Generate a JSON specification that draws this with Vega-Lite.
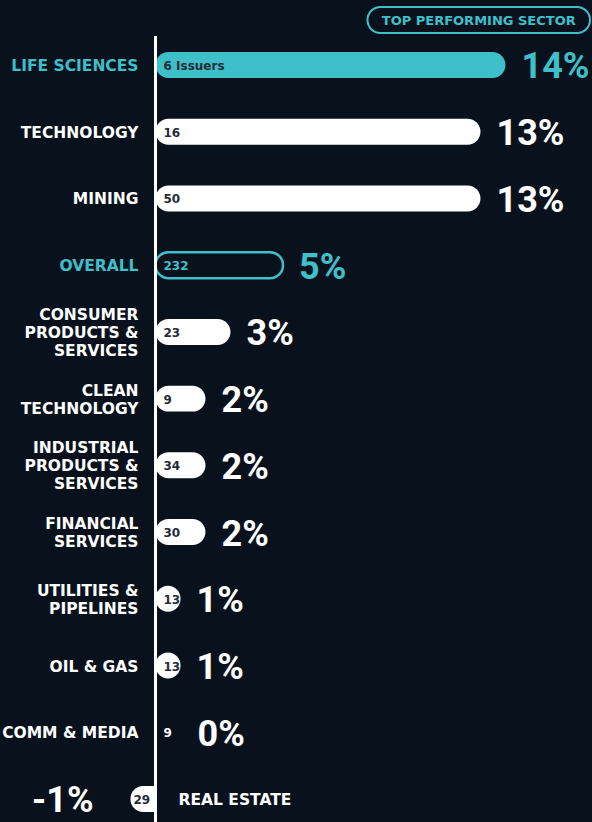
{
  "$schema": "https://vega.github.io/schema/vega-lite/v6.json",
  "background": "#09121c",
  "padding": 0,
  "spacing": 0,
  "bounds": "flush",
  "config": {"view": {"stroke": null}, "font": "DejaVu Sans", "text": {"font": "DejaVu Sans"}},
  "datasets": {
    "rows": [
      {"name": "LIFE SCIENCES", "label": ["LIFE SCIENCES"], "count": "6 Issuers", "v": 14, "pct": "14%", "kind": "top"},
      {"name": "TECHNOLOGY", "label": ["TECHNOLOGY"], "count": "16", "v": 13, "pct": "13%", "kind": "sector"},
      {"name": "MINING", "label": ["MINING"], "count": "50", "v": 13, "pct": "13%", "kind": "sector"},
      {"name": "OVERALL", "label": ["OVERALL"], "count": "232", "v": 5.1, "pct": "5%", "kind": "overall"},
      {"name": "CONSUMER PRODUCTS & SERVICES", "label": ["CONSUMER", "PRODUCTS &", "SERVICES"], "count": "23", "v": 3, "pct": "3%", "kind": "sector"},
      {"name": "CLEAN TECHNOLOGY", "label": ["CLEAN", "TECHNOLOGY"], "count": "9", "v": 2, "pct": "2%", "kind": "sector"},
      {"name": "INDUSTRIAL PRODUCTS & SERVICES", "label": ["INDUSTRIAL", "PRODUCTS &", "SERVICES"], "count": "34", "v": 2, "pct": "2%", "kind": "sector"},
      {"name": "FINANCIAL SERVICES", "label": ["FINANCIAL", "SERVICES"], "count": "30", "v": 2, "pct": "2%", "kind": "sector"},
      {"name": "UTILITIES & PIPELINES", "label": ["UTILITIES &", "PIPELINES"], "count": "13", "v": 1, "pct": "1%", "kind": "sector"},
      {"name": "OIL & GAS", "label": ["OIL & GAS"], "count": "13", "v": 1, "pct": "1%", "kind": "sector"},
      {"name": "COMM & MEDIA", "label": ["COMM & MEDIA"], "count": "9", "v": 0, "pct": "0%", "kind": "sector"},
      {"name": "REAL ESTATE", "label": ["REAL ESTATE"], "count": "29", "v": -1, "pct": "-1%", "kind": "sector"}
    ],
    "header": [{"label": "TOP PERFORMING SECTOR"}]
  },
  "vconcat": [
    {
      "width": 592,
      "height": 36,
      "data": {"name": "header"},
      "encoding": {
        "y": {"field": "label", "type": "nominal", "axis": null, "scale": {"paddingInner": 0, "paddingOuter": 0.1923, "align": 0.7}}
      },
      "layer": [
        {
          "mark": {"type": "bar", "fill": "#09121c", "stroke": "#3fbfca", "strokeWidth": 2, "cornerRadius": 13},
          "encoding": {
            "x": {"datum": 8.48, "type": "quantitative", "scale": {"domain": [-6.22, 17.46], "nice": false, "zero": false}, "axis": null},
            "x2": {"datum": 17.38}
          }
        },
        {
          "mark": {"type": "text", "color": "#3fbfca", "fontWeight": "bold", "fontSize": 13, "baseline": "middle", "dy": 1},
          "encoding": {
            "x": {"datum": 12.93, "type": "quantitative", "scale": {"domain": [-6.22, 17.46], "nice": false, "zero": false}, "axis": null},
            "text": {"field": "label"}
          }
        }
      ]
    },
    {
      "width": 592,
      "height": 786,
      "data": {"name": "rows"},
      "encoding": {
        "y": {
          "field": "name", "type": "nominal", "axis": null,
          "scale": {
            "domain": ["LIFE SCIENCES", "TECHNOLOGY", "MINING", "OVERALL", "CONSUMER PRODUCTS & SERVICES", "CLEAN TECHNOLOGY", "INDUSTRIAL PRODUCTS & SERVICES", "FINANCIAL SERVICES", "UTILITIES & PIPELINES", "OIL & GAS", "COMM & MEDIA", "REAL ESTATE"],
            "paddingInner": 0.6104, "paddingOuter": 0.1948, "align": 0.615
          }
        }
      },
      "resolve": {"scale": {"color": "independent"}},
      "layer": [
        {
          "transform": [{"filter": "datum.v > 0 && datum.kind !== 'overall'"}],
          "mark": {"type": "bar", "cornerRadiusEnd": 13},
          "encoding": {
            "x": {"field": "v", "type": "quantitative", "scale": {"domain": [-6.22, 17.46], "nice": false, "zero": false}, "axis": null},
            "x2": {"datum": 0},
            "color": {"field": "kind", "type": "nominal", "scale": {"domain": ["top", "overall", "sector"], "range": ["#3fbfca", "#3fbfca", "#ffffff"]}, "legend": null}
          }
        },
        {
          "transform": [{"filter": "datum.kind === 'overall'"}],
          "mark": {"type": "bar", "cornerRadiusEnd": 13, "fill": "#09121c", "stroke": "#3fbfca", "strokeWidth": 2.5},
          "encoding": {
            "x": {"field": "v", "type": "quantitative", "scale": {"domain": [-6.22, 17.46], "nice": false, "zero": false}, "axis": null},
            "x2": {"datum": 0}
          }
        },
        {
          "transform": [{"filter": "datum.v < 0"}],
          "mark": {"type": "bar", "cornerRadiusTopLeft": 13, "cornerRadiusBottomLeft": 13, "fill": "#ffffff"},
          "encoding": {
            "x": {"field": "v", "type": "quantitative", "scale": {"domain": [-6.22, 17.46], "nice": false, "zero": false}, "axis": null},
            "x2": {"datum": 0}
          }
        },
        {
          "mark": {"type": "rule", "color": "#ffffff", "strokeWidth": 2.5},
          "encoding": {
            "x": {"datum": 0, "type": "quantitative", "scale": {"domain": [-6.22, 17.46], "nice": false, "zero": false}, "axis": null},
            "y": {"value": 0},
            "y2": {"value": 786}
          }
        },
        {
          "transform": [{"filter": "datum.v >= 0"}],
          "mark": {"type": "text", "align": "left", "baseline": "middle", "dx": 8, "dy": 1, "fontWeight": "bold", "fontSize": 12},
          "encoding": {
            "x": {"datum": 0, "type": "quantitative", "scale": {"domain": [-6.22, 17.46], "nice": false, "zero": false}, "axis": null},
            "text": {"field": "count"},
            "color": {"condition": [{"test": "datum.kind === 'overall'", "value": "#3fbfca"}, {"test": "datum.v === 0", "value": "#ffffff"}], "value": "#262c36"}
          }
        },
        {
          "transform": [{"filter": "datum.v < 0"}],
          "mark": {"type": "text", "align": "left", "baseline": "middle", "dx": 3, "dy": 1, "fontWeight": "bold", "fontSize": 12, "color": "#262c36"},
          "encoding": {
            "x": {"field": "v", "type": "quantitative", "scale": {"domain": [-6.22, 17.46], "nice": false, "zero": false}, "axis": null},
            "text": {"field": "count"}
          }
        },
        {
          "transform": [{"filter": "datum.v > 0"}],
          "mark": {"type": "text", "align": "left", "baseline": "middle", "dx": 16, "dy": 2.5, "fontWeight": "bold", "fontSize": 36, "font": "Roboto"},
          "encoding": {
            "x": {"field": "v", "type": "quantitative", "scale": {"domain": [-6.22, 17.46], "nice": false, "zero": false}, "axis": null},
            "text": {"field": "pct"},
            "color": {"condition": {"test": "datum.kind !== 'sector'", "value": "#3fbfca"}, "value": "#ffffff"}
          }
        },
        {
          "transform": [{"filter": "datum.v === 0"}],
          "mark": {"type": "text", "align": "left", "baseline": "middle", "dx": 42, "dy": 2.5, "fontWeight": "bold", "fontSize": 36, "font": "Roboto", "color": "#ffffff"},
          "encoding": {
            "x": {"field": "v", "type": "quantitative", "scale": {"domain": [-6.22, 17.46], "nice": false, "zero": false}, "axis": null},
            "text": {"field": "pct"}
          }
        },
        {
          "transform": [{"filter": "datum.v < 0"}],
          "mark": {"type": "text", "align": "right", "baseline": "middle", "dx": -37, "dy": 2.5, "fontWeight": "bold", "fontSize": 36, "font": "Roboto", "color": "#ffffff"},
          "encoding": {
            "x": {"field": "v", "type": "quantitative", "scale": {"domain": [-6.22, 17.46], "nice": false, "zero": false}, "axis": null},
            "text": {"field": "pct"}
          }
        },
        {
          "transform": [{"filter": "datum.v >= 0 && length(datum.label) === 1"}],
          "mark": {"type": "text", "align": "right", "baseline": "middle", "dx": -17, "dy": 1, "fontWeight": "bold", "fontSize": 15.5, "lineHeight": 18},
          "encoding": {
            "x": {"datum": 0, "type": "quantitative", "scale": {"domain": [-6.22, 17.46], "nice": false, "zero": false}, "axis": null},
            "text": {"field": "label"},
            "color": {"condition": {"test": "datum.kind !== 'sector'", "value": "#3fbfca"}, "value": "#ffffff"}
          }
        },
        {
          "transform": [{"filter": "length(datum.label) === 2"}],
          "mark": {"type": "text", "align": "right", "baseline": "middle", "dx": -17, "dy": -8, "fontWeight": "bold", "fontSize": 15.5, "lineHeight": 18, "color": "#ffffff"},
          "encoding": {
            "x": {"datum": 0, "type": "quantitative", "scale": {"domain": [-6.22, 17.46], "nice": false, "zero": false}, "axis": null},
            "text": {"field": "label"}
          }
        },
        {
          "transform": [{"filter": "length(datum.label) === 3"}],
          "mark": {"type": "text", "align": "right", "baseline": "middle", "dx": -17, "dy": -17, "fontWeight": "bold", "fontSize": 15.5, "lineHeight": 18, "color": "#ffffff"},
          "encoding": {
            "x": {"datum": 0, "type": "quantitative", "scale": {"domain": [-6.22, 17.46], "nice": false, "zero": false}, "axis": null},
            "text": {"field": "label"}
          }
        },
        {
          "transform": [{"filter": "datum.v < 0"}],
          "mark": {"type": "text", "align": "left", "baseline": "middle", "dx": 23, "dy": 1, "fontWeight": "bold", "fontSize": 15.5, "lineHeight": 18, "color": "#ffffff"},
          "encoding": {
            "x": {"datum": 0, "type": "quantitative", "scale": {"domain": [-6.22, 17.46], "nice": false, "zero": false}, "axis": null},
            "text": {"field": "label"}
          }
        }
      ]
    }
  ]
}
